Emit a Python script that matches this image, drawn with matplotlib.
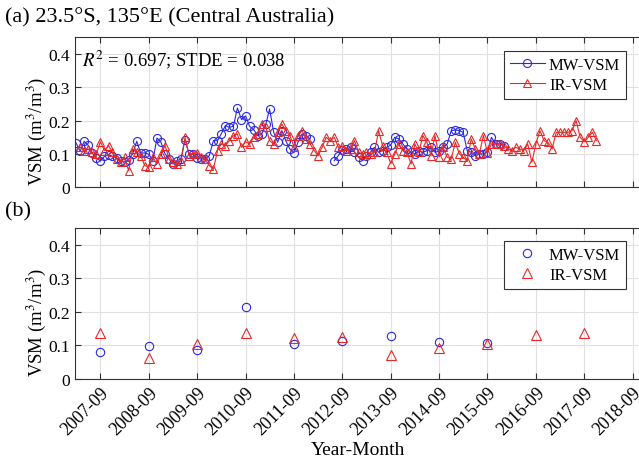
import numpy as np
import pandas as pd
import matplotlib
matplotlib.use("Agg")
import matplotlib.pyplot as plt
import matplotlib.dates as mdates
from matplotlib.ticker import FuncFormatter

plt.rcParams['font.family'] = ['Liberation Serif', 'DejaVu Serif']
plt.rcParams['mathtext.fontset'] = 'stix'

# monthly soil moisture, central Australia
mw_start = '2007-03-01'
mw_vsm = [
    0.133, 0.108, 0.138, 0.126, 0.103, 0.088, 0.079, 0.093, 0.098, 0.093,
    0.088, 0.078, 0.076, 0.083, 0.100, 0.138, 0.103, 0.103, 0.099, 0.080,
    0.148, 0.135, 0.100, 0.085, 0.070, 0.080, 0.085, 0.143, 0.100, 0.100,
    0.087, 0.085, 0.085, 0.095, 0.140, 0.140, 0.160, 0.185, 0.180, 0.183,
    0.238, 0.203, 0.214, 0.183, 0.173, 0.155, 0.160, 0.190, 0.235, 0.165,
    0.135, 0.170, 0.140, 0.115, 0.104, 0.135, 0.160, 0.155, 0.145, np.nan,
    np.nan, np.nan, np.nan, np.nan, 0.080, 0.095, 0.113, 0.115, 0.120, 0.105,
    0.090, 0.080, 0.095, 0.105, 0.120, 0.105, 0.110, 0.120, 0.127, 0.150,
    0.145, 0.130, 0.115, 0.105, 0.100, 0.110, 0.105, 0.110, 0.120, 0.105,
    0.109, 0.120, 0.130, 0.170, 0.172, 0.170, 0.165, 0.110, 0.105, 0.095,
    0.100, 0.100, 0.107, 0.150, 0.130, 0.130, 0.125,
]

ir_start = '2007-04-01'
ir_vsm = [
    0.120, 0.110, 0.115, 0.105, 0.100, 0.137, 0.110, 0.125, 0.105, 0.085,
    0.075, 0.090, 0.050, 0.115, 0.105, 0.095, 0.065, 0.061, 0.090, 0.070,
    0.100, 0.125, 0.085, 0.075, 0.070, 0.080, 0.150, 0.095, 0.100, 0.104,
    0.090, 0.085, 0.065, 0.055, 0.110, 0.130, 0.125, 0.140, 0.155, 0.160,
    0.120, 0.137, 0.130, 0.150, 0.160, 0.190, 0.180, 0.140, 0.130, 0.165,
    0.190, 0.170, 0.155, 0.122, 0.155, 0.170, 0.145, 0.130, 0.110, 0.095,
    0.120, 0.150, 0.140, 0.150, 0.120, 0.124, 0.110, 0.115, 0.140, 0.105,
    0.100, 0.105, 0.100, 0.105, 0.170, 0.125, 0.105, 0.071, 0.100, 0.130,
    0.110, 0.105, 0.070, 0.130, 0.105, 0.155, 0.135, 0.095, 0.155, 0.091,
    0.120, 0.090, 0.085, 0.135, 0.100, 0.090, 0.080, 0.145, 0.115, 0.100,
    0.155, 0.104, 0.130, 0.130, 0.130, 0.125, 0.115, 0.110, 0.120, 0.115,
    0.110, 0.130, 0.075, 0.131, 0.170, 0.140, 0.135, 0.115, 0.165, 0.165,
    0.165, 0.165, 0.170, 0.200, 0.150, 0.137, 0.150, 0.165, 0.140,
]

mw = pd.Series(mw_vsm, index=pd.date_range(mw_start, periods=len(mw_vsm), freq='MS'))
ir = pd.Series(ir_vsm, index=pd.date_range(ir_start, periods=len(ir_vsm), freq='MS'))

# September values only for panel (b)
mw_sep = mw[mw.index.month == 9]
ir_sep = ir[ir.index.month == 9]

blue = '#2828e6'
red = '#e82828'

fig = plt.figure(figsize=(6.39, 4.64), dpi=100)
W, H = 639, 464
left, right = 75, 650
ax1 = fig.add_axes([left / W, (H - 188.3) / H, (right - left) / W, 150 / H])
ax2 = fig.add_axes([left / W, (H - 379.6) / H, (right - left) / W, 150.4 / H])

ax1.plot(mw.index, mw.values, color=blue, lw=0.8, marker='o', ms=5.8,
         mfc='none', mew=0.8, label='MW-VSM')
ax1.plot(ir.index, ir.values, color=red, lw=0.8, marker='^', ms=6.2,
         mfc='none', mew=0.8, label='IR-VSM')

ax2.plot(mw_sep.index, mw_sep.values, ls='none', color=blue, marker='o', ms=6,
         mfc='none', mew=0.8, label='MW-VSM')
ax2.plot(ir_sep.index, ir_sep.values, ls='none', color=red, marker='^', ms=6.5,
         mfc='none', mew=0.8, label='IR-VSM')

xticks = pd.date_range('2007-09-01', '2018-09-01', freq='12MS')
yfmt = FuncFormatter(lambda v, p: '0' if abs(v) < 1e-9 else f'{v:.1f}')
for ax in (ax1, ax2):
    ax.set_xlim(pd.Timestamp('2007-02-21'), pd.Timestamp('2019-01-10'))
    ax.set_ylim(0, 0.45)
    ax.set_yticks([0, 0.1, 0.2, 0.3, 0.4])
    ax.yaxis.set_major_formatter(yfmt)
    ax.set_xticks(xticks)
    ax.xaxis.set_major_formatter(mdates.DateFormatter('%Y-%m'))
    ax.grid(True, color='#e0e0e0', lw=0.8)
    ax.set_axisbelow(True)
    ax.tick_params(direction='in', top=True, right=True, length=4,
                   labelsize=12.5, width=0.8, color='#333333')
    for s in ax.spines.values():
        s.set_color('#333333')
        s.set_linewidth(0.8)
    ax.set_ylabel('VSM (m$^3$/m$^3$)', fontsize=13.5)
    ax.yaxis.set_label_coords(-0.047, 0.38)

ax1.tick_params(labelbottom=False)
plt.setp(ax2.get_xticklabels(), rotation=45, ha='right', rotation_mode='anchor',
         fontsize=13)

ax1.text(0.012, 0.855, '$R^2$ = 0.697; STDE = 0.038', transform=ax1.transAxes,
         fontsize=13.5, va='center')

leg_kw = dict(loc='upper right', fontsize=12, fancybox=False, framealpha=1,
              edgecolor='#333333', handlelength=2.1, borderpad=0.35,
              labelspacing=0.25, handletextpad=0.25, borderaxespad=0)
l1 = ax1.legend(bbox_to_anchor=((626 - left) / (right - left), (188.3 - 52) / 150), **leg_kw)
l2 = ax2.legend(bbox_to_anchor=((626 - left) / (right - left), (379.6 - 242) / 150.4), **leg_kw)
for lg in (l1, l2):
    lg.get_frame().set_linewidth(0.8)

fig.text(5 / W, 1 - 18 / H, '(a) 23.5°S, 135°E (Central Australia)',
         fontsize=16, va='center', ha='left')
fig.text(5 / W, 1 - 212 / H, '(b)', fontsize=16, va='center', ha='left')
fig.text(358 / W, 1 - 451 / H, 'Year-Month', fontsize=14, va='center', ha='center')

fig.savefig('out.png', dpi=100)
